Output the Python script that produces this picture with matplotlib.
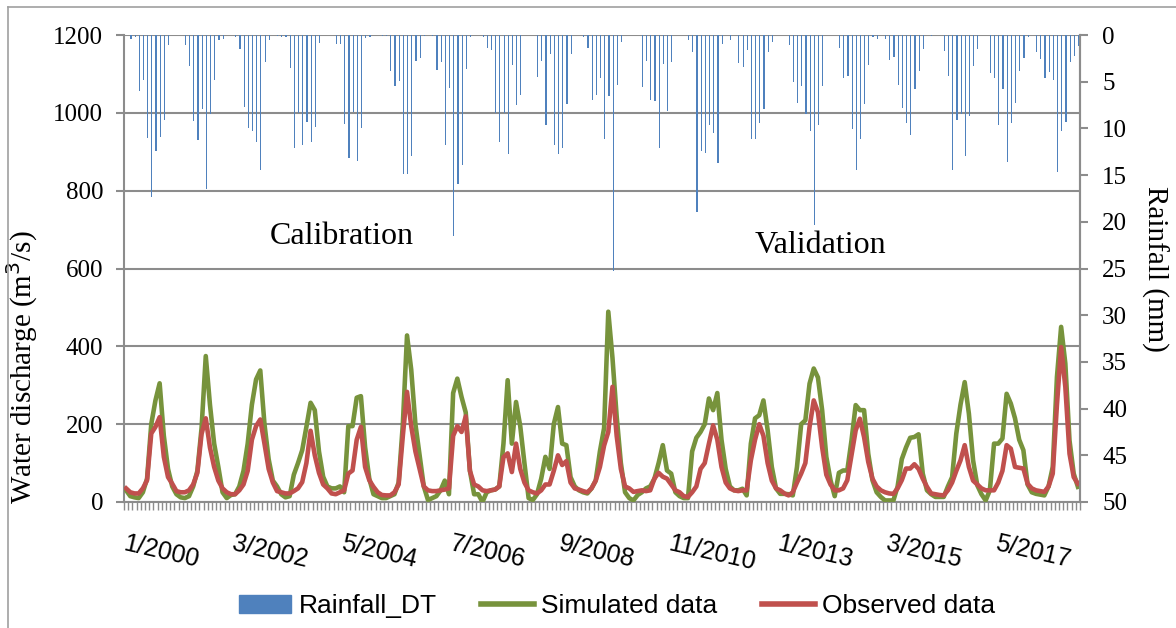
import numpy as np
import matplotlib
matplotlib.use("Agg")
import matplotlib.pyplot as plt
from matplotlib.lines import Line2D
from matplotlib.patches import Patch

# monthly series, 1/2000 .. 12/2018
simulated = [
    30, 15, 12, 10, 25, 60, 200, 261, 305, 170, 85, 40,
    20, 12, 10, 15, 40, 80, 190, 375, 250, 150, 90, 25,
    10, 18, 20, 40, 80, 150, 250, 315, 338, 200, 110, 55,
    40, 20, 12, 15, 70, 100, 133, 193, 255, 236, 130, 65,
    40, 35, 35, 40, 25, 195, 195, 268, 272, 141, 60, 20,
    15, 10, 10, 15, 20, 50, 200, 428, 340, 200, 120, 40,
    5, 10, 15, 30, 55, 20, 280, 317, 270, 230, 80, 20,
    20, 0, 25, 30, 32, 40, 150, 313, 150, 257, 195, 100,
    10, 5, 20, 60, 116, 85, 200, 244, 150, 146, 64, 40,
    30, 25, 22, 35, 55, 130, 190, 489, 370, 220, 100, 25,
    10, 4, 18, 25, 35, 40, 60, 100, 146, 81, 73, 25,
    15, 10, 10, 130, 165, 180, 200, 266, 236, 280, 160, 85,
    40, 30, 30, 34, 17, 150, 215, 223, 261, 185, 90, 35,
    21, 21, 20, 17, 90, 200, 210, 304, 343, 320, 236, 116,
    56, 15, 75, 81, 81, 158, 249, 236, 236, 124, 56, 25,
    13, 4, 4, 4, 40, 110, 140, 165, 167, 174, 73, 30,
    20, 13, 13, 13, 40, 64, 176, 250, 308, 227, 107, 43,
    20, 4, 30, 150, 150, 163, 278, 253, 215, 160, 133, 45,
    25, 21, 19, 17, 40, 90, 321, 450, 356, 158, 73, 39,
]

observed = [
    35, 25, 22, 22, 35, 56, 176, 193, 218, 116, 64, 47,
    28, 25, 25, 30, 45, 75, 175, 215, 140, 90, 55, 35,
    25, 20, 20, 30, 45, 80, 160, 195, 212, 150, 85, 50,
    28, 25, 22, 22, 28, 35, 51, 100, 183, 120, 75, 45,
    35, 22, 20, 25, 30, 73, 81, 160, 193, 90, 56, 39,
    25, 18, 17, 17, 25, 45, 170, 283, 195, 130, 85, 40,
    30, 28, 28, 30, 32, 35, 170, 195, 180, 220, 80, 45,
    40, 30, 28, 30, 32, 40, 115, 125, 77, 150, 85, 50,
    30, 25, 22, 30, 45, 45, 80, 120, 95, 105, 50, 35,
    32, 28, 25, 35, 55, 90, 145, 180, 296, 170, 85, 40,
    35, 26, 28, 30, 28, 30, 60, 75, 65, 60, 45, 30,
    25, 15, 13, 25, 40, 85, 100, 150, 197, 160, 90, 50,
    35, 30, 28, 30, 30, 107, 160, 200, 170, 100, 55, 35,
    30, 22, 17, 25, 50, 73, 100, 193, 261, 231, 141, 70,
    45, 30, 30, 35, 56, 120, 184, 214, 167, 103, 60, 40,
    30, 25, 22, 21, 35, 56, 86, 86, 97, 85, 60, 39,
    22, 20, 18, 17, 30, 50, 80, 107, 146, 90, 55, 45,
    35, 30, 30, 30, 50, 80, 146, 137, 90, 88, 86, 47,
    35, 30, 28, 26, 40, 73, 250, 398, 296, 124, 64, 47,
]

rainfall = [
    0, 0.4, 0.2, 6.0, 4.8, 11.0, 17.3, 12.4, 10.9, 9.1, 1.1, 0,
    0, 0, 1.1, 3.3, 9.2, 11.2, 7.9, 16.5, 8.5, 4.8, 0.5, 0.4,
    0, 0, 0.2, 1.5, 7.7, 10.0, 10.3, 11.5, 14.5, 2.9, 0.5, 0,
    0.1, 0.2, 0.2, 3.5, 12.1, 8.4, 11.8, 9.3, 11.5, 9.8, 0.9, 0,
    0, 0, 1.0, 1.0, 9.5, 13.2, 8.2, 13.5, 10.0, 0.3, 0.2, 0,
    0, 0.1, 0.1, 3.9, 5.5, 4.9, 14.9, 14.9, 13.0, 2.8, 2.5, 0.1,
    0, 0.1, 3.7, 2.9, 11.8, 5.7, 21.5, 16.0, 13.9, 3.6, 0.2, 0,
    0, 0.2, 1.4, 1.6, 8.4, 11.5, 8.3, 12.7, 3.2, 7.5, 6.4, 0,
    0, 0, 4.5, 2.8, 9.6, 2.0, 11.8, 12.7, 12.1, 7.4, 2.0, 0,
    0, 0.2, 1.4, 7.0, 6.4, 4.6, 11.1, 6.5, 25.3, 5.4, 0.8, 0,
    0, 0, 0, 5.6, 2.8, 7.0, 7.1, 12.1, 3.1, 8.1, 2.9, 0,
    0, 0, 0.5, 1.8, 18.9, 12.4, 12.6, 9.6, 10.5, 13.7, 1.0, 0,
    0.5, 0, 3.0, 3.4, 1.6, 11.1, 11.1, 9.4, 7.9, 1.8, 0.7, 0,
    0, 0, 1.1, 5.0, 7.3, 5.5, 8.5, 10.3, 20.3, 9.6, 5.5, 0,
    0, 0, 1.4, 4.6, 4.4, 10.1, 14.5, 11.1, 7.4, 3.2, 0.2, 0.4,
    0, 0.4, 2.7, 2.4, 5.4, 7.8, 9.4, 10.7, 5.8, 3.9, 1.5, 0,
    0.1, 0, 0, 1.7, 4.4, 14.5, 9.1, 8.5, 13.0, 8.7, 3.3, 1.5,
    0, 0, 4.1, 4.6, 9.6, 5.8, 13.6, 9.4, 7.3, 3.9, 2.5, 0.2,
    0, 1.8, 2.6, 4.6, 4.0, 4.8, 14.7, 10.3, 9.3, 2.9, 2.3, 1.2,
]

# month labels m/yyyy
months = []
for year in range(2000, 2019):
    for m in range(1, 13):
        months.append("%d/%d" % (m, year))
label_step = 26

GRID = "#8c8c8c"
GREEN = "#77933C"
RED = "#C0504D"
BLUE = "#4F81BD"
SERIF = ["Liberation Serif", "DejaVu Serif"]
SANS = ["Liberation Sans", "DejaVu Sans"]

fig = plt.figure(figsize=(11.76, 6.28), dpi=100)
ax = fig.add_axes([124 / 1176, 1 - 502 / 628, (1080 - 124) / 1176, (502 - 35) / 628])
x = np.arange(len(months))

ax.plot(x, simulated, color=GREEN, lw=3.3, solid_joinstyle="round", zorder=3)
ax.plot(x, observed, color=RED, lw=3.3, solid_joinstyle="round", zorder=4)

ax.set_xlim(-0.5, len(months) - 0.5)
ax.set_ylim(0, 1200)
ax.set_yticks(range(0, 1201, 200))
ax.yaxis.grid(True, color=GRID, lw=1.5)
ax.set_axisbelow(True)
ax.spines["top"].set_visible(False)
for s in ["left", "bottom", "right"]:
    ax.spines[s].set_color(GRID)
    ax.spines[s].set_linewidth(1.5)
ax.tick_params(axis="y", direction="out", length=6, color=GRID, width=1.5,
               labelsize=18, pad=9)
for t in ax.get_yticklabels():
    t.set_family(SERIF)

ax.set_xticks(x[::label_step])
ax.set_xticklabels(months[::label_step], rotation=-13, ha="left", va="top",
                   rotation_mode="anchor", family=SANS, fontsize=18)
ax.set_xticks(np.arange(-0.5, len(months), 1), minor=True)
ax.tick_params(axis="x", which="major", length=0, pad=21)
ax.tick_params(axis="x", which="minor", length=6, color=GRID, width=1.0)

ax.set_ylabel("Water discharge (m$^3$/s)", family=SERIF, fontsize=21)
ax.yaxis.set_label_coords(-0.088, 0.289)

ax.text(51.4, 681, "Calibration", family=SERIF, fontsize=23, ha="center", va="center")
ax.text(165.7, 658, "Validation", family=SERIF, fontsize=23, ha="center", va="center")

ax2 = ax.twinx()
ax2.bar(x + 0.15, rainfall, width=0.28, color=BLUE, zorder=2)
ax2.set_ylim(50, 0)
ax2.set_yticks(range(0, 51, 5))
ax2.tick_params(axis="y", direction="out", length=6, color=GRID, width=1.5,
                labelsize=18, pad=10)
for t in ax2.get_yticklabels():
    t.set_family(SERIF)
for s in ["top", "left", "bottom"]:
    ax2.spines[s].set_visible(False)
ax2.spines["right"].set_color(GRID)
ax2.spines["right"].set_linewidth(1.5)
ax2.set_ylabel("Rainfall (mm)", family=SERIF, fontsize=21, rotation=270, va="center")
ax2.yaxis.set_label_coords(1.078, 0.5)

handles = [
    Patch(facecolor=BLUE, edgecolor=BLUE),
    Line2D([], [], color=GREEN, lw=4),
    Line2D([], [], color=RED, lw=4),
]
fig.legend(handles, ["Rainfall_DT", "Simulated data", "Observed data"],
           loc="center", bbox_to_anchor=(0.5247, 1 - 606 / 628), ncol=3,
           frameon=False, prop={"family": SANS, "size": 19},
           handlelength=2.0, handletextpad=0.27, columnspacing=1.7)

# outer frame
fig.add_artist(Line2D([8 / 1176, 1], [1 - 7 / 628, 1 - 7 / 628], color="#a0a0a0", lw=1.2))
fig.add_artist(Line2D([8 / 1176, 8 / 1176], [0, 1 - 7 / 628], color="#a0a0a0", lw=1.2))

fig.savefig("out.png", dpi=100)
